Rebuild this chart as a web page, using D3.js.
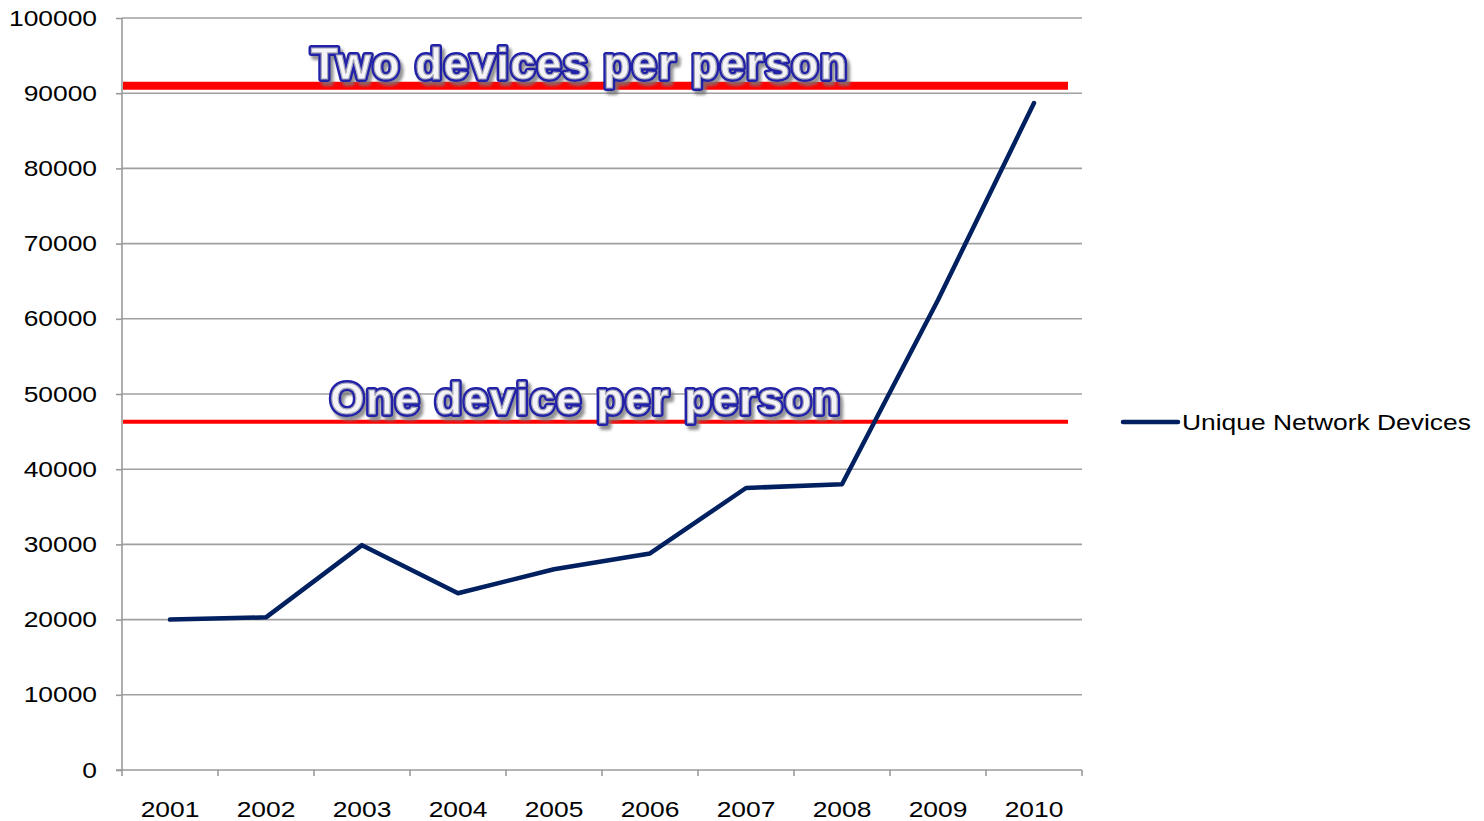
<!DOCTYPE html>
<html>
<head>
<meta charset="utf-8">
<script src="https://cdn.jsdelivr.net/npm/d3@7"></script>
<style>
  html, body { margin: 0; padding: 0; background: #fff; }
  svg { display: block; font-family: "Liberation Sans", Arial, sans-serif; }
</style>
</head>
<body>
<svg id="chart" width="1484" height="821"></svg>
<script>
// Unique network devices per year
const years = ["2001", "2002", "2003", "2004", "2005", "2006", "2007", "2008", "2009", "2010"];
const devices = [20000, 20300, 29900, 23500, 26700, 28800, 37500, 38000, 62500, 88700];
const yTicks = [0, 10000, 20000, 30000, 40000, 50000, 60000, 70000, 80000, 90000, 100000];
const seriesName = "Unique Network Devices";

// Reference levels (population multiples)
const refLabels = ["Two devices per person", "One device per person"];
const refValues = [91000, 46300];

const svg = d3.select("#chart");
const plotLeft = 122, plotRight = 1082, plotTop = 18, plotBottom = 770;
const wide = 1.2; // horizontal stretch of the axis/legend lettering

const x = d3.scaleBand().domain(years).range([plotLeft, plotRight]).padding(0);
const y = d3.scaleLinear().domain([0, 100000]).range([plotBottom, plotTop]);

// Gridlines
svg.append("g")
  .selectAll("line")
  .data(yTicks.filter(d => d > 0))
  .join("line")
  .attr("x1", plotLeft).attr("x2", plotRight)
  .attr("y1", d => y(d)).attr("y2", d => y(d))
  .attr("stroke", "#a0a0a0").attr("stroke-width", 1.6);

// Y axis
const yAxis = svg.append("g")
  .attr("transform", `translate(${plotLeft},0)`)
  .call(d3.axisLeft(y).tickValues(yTicks).tickSize(6).tickPadding(18).tickFormat(d3.format("d")));
yAxis.select(".domain").attr("stroke", "#9a9a9a").attr("stroke-width", 1.6).attr("d", `M0,${plotTop}V${plotBottom}`);
yAxis.selectAll(".tick line").attr("stroke", "#9a9a9a").attr("stroke-width", 1.6);
yAxis.selectAll("text")
  .attr("font-size", 22).attr("fill", "#000")
  .attr("font-family", "'Liberation Sans', Arial, sans-serif")
  .attr("x", -25 / wide)
  .attr("transform", `scale(${wide},1)`);

// X axis: ticks on category boundaries
const xAxis = svg.append("g").attr("transform", `translate(0,${plotBottom})`);
xAxis.append("line")
  .attr("x1", plotLeft - 6).attr("x2", plotRight)
  .attr("y1", 0).attr("y2", 0)
  .attr("stroke", "#9a9a9a").attr("stroke-width", 1.6);
const bounds = years.map(d => x(d)).concat([plotRight]);
xAxis.selectAll("line.tk")
  .data(bounds)
  .join("line")
  .attr("class", "tk")
  .attr("x1", d => d).attr("x2", d => d)
  .attr("y1", 0).attr("y2", 6)
  .attr("stroke", "#9a9a9a").attr("stroke-width", 1.6);
xAxis.selectAll("text")
  .data(years)
  .join("text")
  .attr("x", d => (x(d) + x.bandwidth() / 2) / wide)
  .attr("y", 47)
  .attr("transform", `scale(${wide},1)`)
  .attr("text-anchor", "middle")
  .attr("font-size", 22)
  .attr("fill", "#000")
  .text(d => d);

// Reference lines
const refWidths = [8, 4];
svg.append("g")
  .selectAll("line")
  .data(refValues)
  .join("line")
  .attr("x1", plotLeft + 1).attr("x2", 1068)
  .attr("y1", d => y(d)).attr("y2", d => y(d))
  .attr("stroke", "#ff0000")
  .attr("stroke-width", (d, i) => refWidths[i]);

// Series line
const line = d3.line()
  .x((d, i) => x(years[i]) + x.bandwidth() / 2)
  .y(d => y(d));
svg.append("path")
  .datum(devices)
  .attr("d", line)
  .attr("fill", "none")
  .attr("stroke", "#002060")
  .attr("stroke-width", 4.5)
  .attr("stroke-linejoin", "round")
  .attr("stroke-linecap", "round");

// Outlined labels with shadow
const defs = svg.append("defs");
const f = defs.append("filter").attr("id", "shadow").attr("x", "-5%").attr("y", "-20%").attr("width", "110%").attr("height", "150%");
f.append("feGaussianBlur").attr("in", "SourceAlpha").attr("stdDeviation", 1.5).attr("result", "b");
f.append("feOffset").attr("in", "b").attr("dx", 3).attr("dy", 4).attr("result", "o");
f.append("feFlood").attr("flood-color", "#777").attr("flood-opacity", 0.8);
f.append("feComposite").attr("in2", "o").attr("operator", "in").attr("result", "s");
const m = f.append("feMerge");
m.append("feMergeNode").attr("in", "s");
m.append("feMergeNode").attr("in", "SourceGraphic");

const labelPos = [
  { x: 311, w: 536, base: 79 },
  { x: 330, w: 510, base: 414 }
];
refLabels.forEach((t, i) => {
  const g = svg.append("g").attr("filter", "url(#shadow)");
  const p = labelPos[i];
  g.append("text")
    .attr("x", p.x).attr("y", p.base)
    .attr("textLength", p.w).attr("lengthAdjust", "spacing")
    .attr("font-size", 44).attr("font-weight", "bold")
    .attr("fill", "#2020a8").attr("stroke", "#2020a8").attr("stroke-width", 6)
    .attr("stroke-linejoin", "round")
    .text(t);
  g.append("text")
    .attr("x", p.x).attr("y", p.base)
    .attr("textLength", p.w).attr("lengthAdjust", "spacing")
    .attr("font-size", 44).attr("font-weight", "bold")
    .attr("fill", "#f4f4f8").attr("stroke", "#a8a8b8").attr("stroke-width", 1.2)
    .text(t);
});

// Legend
const lg = svg.append("g").attr("transform", "translate(1123,422)");
lg.append("line").attr("x1", 0).attr("x2", 55).attr("y1", 0).attr("y2", 0)
  .attr("stroke", "#002060").attr("stroke-width", 4.5).attr("stroke-linecap", "round");
lg.append("text")
  .attr("x", 59 / wide).attr("y", 8)
  .attr("transform", `scale(${wide},1)`)
  .attr("font-size", 22).attr("fill", "#000").text(seriesName);
</script>
</body>
</html>
